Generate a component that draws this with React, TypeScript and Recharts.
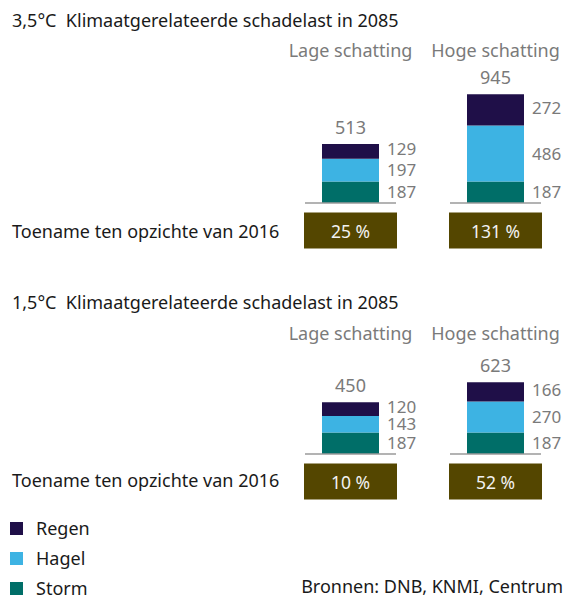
import React from 'react';
import { BarChart, Bar, XAxis, YAxis, LabelList } from 'recharts';

const estimates = ['Lage schatting', 'Hoge schatting'];
const scenarios = ['3,5°C', '1,5°C'];

const storm35 = [187, 187];
const hagel35 = [197, 486];
const regen35 = [129, 272];
const total35 = [513, 945];
const increase35 = ['25 %', '131 %'];

const storm15 = [187, 187];
const hagel15 = [143, 270];
const regen15 = [120, 166];
const total15 = [450, 623];
const increase15 = ['10 %', '52 %'];

const seriesNames = ['Regen', 'Hagel', 'Storm'];

const COLORS: Record<string, string> = {
  Regen: '#1f0f48',
  Hagel: '#3db3e3',
  Storm: '#006e68',
};
const BADGE = '#544600';
const GREY = '#7a7a7a';
const FONT = '"Noto Sans", sans-serif';
const FS = 18;
const LABEL_FS = 17;

const buildRows = (storm: number[], hagel: number[], regen: number[], total: number[], inc: string[]) =>
  estimates.map((name, i) => ({
    name,
    storm: storm[i],
    hagel: hagel[i],
    regen: regen[i],
    total: total[i],
    increase: inc[i],
  }));

// storm is the bottom piece, it also draws the little baseline under the bar
const StormShape = (props: any) => {
  const { x, y, width, height, fill } = props;
  return (
    <g>
      <rect x={x} y={y} width={width} height={height} fill={fill} />
      <line x1={x - 17} x2={x + width + 17} y1={y + height} y2={y + height} stroke="#9a9a9a" strokeWidth={1.5} />
    </g>
  );
};

interface PanelProps {
  top: number;
  rows: any[];
  headerDy: number;
}

const Panel: React.FC<PanelProps> = ({ top, rows, headerDy }) => {
  const plotTop = 88;
  const width = 569;
  const height = 260;

  const BadgeTick = (p: any) => {
    const { x, y, payload } = p;
    const row = rows[payload.index];
    return (
      <g>
        <rect x={x - 46.5} y={y + 9.5} width={93} height={36} fill={BADGE} />
        <text x={x} y={y + 28} textAnchor="middle" dominantBaseline="central" fill="#f2f2f2" fontSize={17.5} fontFamily={FONT}>
          {row.increase}
        </text>
      </g>
    );
  };

  const HeaderTick = (p: any) => {
    const { x, y, payload } = p;
    return (
      <text x={x} y={y + headerDy} textAnchor="middle" fill={GREY} fontSize={FS} fontFamily={FONT}>
        {payload.value}
      </text>
    );
  };

  return (
    <div style={{ position: 'absolute', left: 0, top }}>
      <BarChart
        width={width}
        height={height}
        data={rows}
        margin={{ top: plotTop - 40, right: 1, bottom: 0, left: 278 }}
      >
        <XAxis dataKey="name" xAxisId={0} axisLine={false} tickLine={false} tickSize={0} tickMargin={0} height={57} tick={<BadgeTick />} interval={0} />
        <XAxis dataKey="name" xAxisId="top" orientation="top" axisLine={false} tickLine={false} tickSize={0} tickMargin={0} height={40} tick={<HeaderTick />} interval={0} />
        <YAxis hide domain={[0, 1000]} />
        <Bar dataKey="storm" stackId="a" fill={COLORS.Storm} barSize={57} shape={<StormShape />} isAnimationActive={false}>
          <LabelList dataKey="storm" position="right" offset={8} fill={GREY} fontSize={LABEL_FS} fontFamily={FONT} />
        </Bar>
        <Bar dataKey="hagel" stackId="a" fill={COLORS.Hagel} barSize={57} isAnimationActive={false}>
          <LabelList dataKey="hagel" position="right" offset={8} fill={GREY} fontSize={LABEL_FS} fontFamily={FONT} />
        </Bar>
        <Bar dataKey="regen" stackId="a" fill={COLORS.Regen} barSize={57} isAnimationActive={false}>
          <LabelList dataKey="regen" position="right" offset={8} dy={-2} fill={GREY} fontSize={LABEL_FS} fontFamily={FONT} />
          <LabelList dataKey="total" position="top" offset={10} fill={GREY} fontSize={FS} fontFamily={FONT} />
        </Bar>
      </BarChart>
    </div>
  );
};

const textStyle: React.CSSProperties = {
  position: 'absolute',
  fontFamily: FONT,
  fontSize: FS,
  color: '#1a1a1a',
  whiteSpace: 'nowrap',
  lineHeight: '20px',
};

const App: React.FC = () => {
  const rows35 = buildRows(storm35, hagel35, regen35, total35, increase35);
  const rows15 = buildRows(storm15, hagel15, regen15, total15, increase15);

  return (
    <div style={{ position: 'absolute', left: 0, top: 0, width: 569, height: 597, background: '#fff', overflow: 'hidden' }}>
      <div style={{ ...textStyle, left: 12, top: 10 }}>{scenarios[0]}&nbsp;&nbsp;Klimaatgerelateerde schadelast in 2085</div>
      <div style={{ ...textStyle, left: 12, top: 221 }}>Toename ten opzichte van 2016</div>
      <Panel top={0} rows={rows35} headerDy={-31} />

      <div style={{ ...textStyle, left: 12, top: 292 }}>{scenarios[1]}&nbsp;&nbsp;Klimaatgerelateerde schadelast in 2085</div>
      <div style={{ ...textStyle, left: 12, top: 470 }}>Toename ten opzichte van 2016</div>
      <Panel top={251} rows={rows15} headerDy={1} />

      {seriesNames.map((s, i) => (
        <div key={s} style={{ ...textStyle, left: 10, top: 518 + i * 30, display: 'flex', alignItems: 'center' }}>
          <span style={{ display: 'inline-block', width: 13, height: 13, background: COLORS[s], marginRight: 13 }} />
          {s}
        </div>
      ))}
      <div style={{ ...textStyle, right: 6, top: 576 }}>Bronnen: DNB, KNMI, Centrum</div>
    </div>
  );
};

export default App;
